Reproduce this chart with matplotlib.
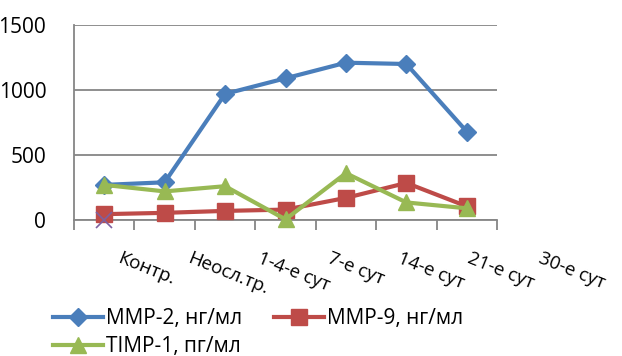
import matplotlib
matplotlib.use("Agg")
from matplotlib import pyplot as plt

plt.rcParams['font.family'] = ['Open Sans', 'DejaVu Sans']

categories = ["Контр.", "Неосл.тр.", "1-4-е сут", "7-е сут", "14-е сут", "21-е сут", "30-е сут"]
mmp2 = [270, 290, 970, 1090, 1210, 1200, 680]
mmp9 = [45, 55, 70, 80, 170, 285, 105]
timp1 = [270, 220, 260, 5, 360, 135, 90]
extra = [0]  # purple cross at Контр.

labels = ["MMP-2, нг/мл", "MMP-9, нг/мл", "TIMP-1, пг/мл"]
colors = ["#4A7EBB", "#BE4B48", "#98B954"]
markers = ["D", "s", "^"]
msizes = [9, 11, 11]

fig = plt.figure(figsize=(6.22, 3.56), dpi=100)
ax = fig.add_axes([74 / 622, 1 - 220 / 356, 423 / 622, 195 / 356])

x = list(range(len(categories)))
lines = []
for series, lab, col, mk, ms in zip([mmp2, mmp9, timp1], labels, colors, markers, msizes):
    ln, = ax.plot(x, series, color=col, lw=3, marker=mk, markersize=ms,
                  markerfacecolor=col, markeredgecolor=col, label=lab, clip_on=False, zorder=3)
    lines.append(ln)
ax.plot(x[:len(extra)], extra, ls='none', marker='x', color='#7D60A0',
        markersize=11, mew=1.2, clip_on=False, zorder=4)

ax.set_xlim(-0.5, len(categories) - 0.5)
ax.set_ylim(0, 1500)
ax.set_yticks([0, 500, 1000, 1500])
ax.yaxis.grid(True, color='#868686', lw=1.3)
ax.set_axisbelow(True)
ax.tick_params(axis='y', length=0, pad=20, labelsize=15)
ax.set_xticks([i - 0.5 for i in range(len(categories) + 1)])
ax.set_xticklabels([])
ax.tick_params(axis='x', which='major', bottom=True, length=7, width=1.3,
               color='#868686', direction='out')
for s in ['top', 'right']:
    ax.spines[s].set_visible(False)
ax.spines['bottom'].set_color('#868686')
ax.spines['bottom'].set_linewidth(1.3)
ax.spines['left'].set_color('#868686')
ax.spines['left'].set_linewidth(1.3)

# rotated category labels, spread a little wider than the categories (as Excel drew them)
for i, c in enumerate(categories):
    ax.text(0.295 + 1.159 * i, -0.15, c, transform=ax.get_xaxis_transform(),
            rotation=-22, rotation_mode='anchor', ha='left', va='top',
            fontsize=13.5, clip_on=False)

# row-wise order: MMP-2, MMP-9 / TIMP-1
order = [0, 2, 1]
fig.legend([lines[k] for k in order], [labels[k] for k in order],
           loc='upper left', bbox_to_anchor=(53 / 622, 1 - 308 / 356), ncol=2,
           frameon=False, fontsize=15, handlelength=2.4, handletextpad=0.15,
           columnspacing=1.5, labelspacing=0.35, borderpad=0, borderaxespad=0)

fig.savefig("out.png", dpi=100)
